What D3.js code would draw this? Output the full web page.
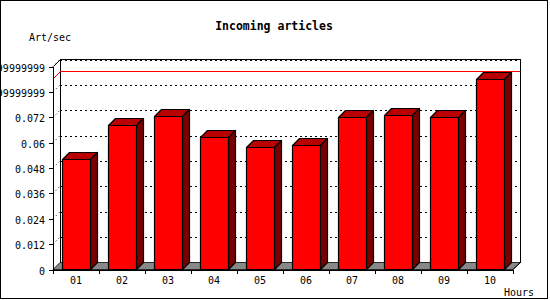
<!DOCTYPE html>
<html><head><meta charset="utf-8">
<script src="https://cdn.jsdelivr.net/npm/d3@7"></script>
<style>
html,body{margin:0;padding:0;background:#fff;}
svg{display:block;}
text{font-family:"DejaVu Sans Mono","Liberation Mono",monospace;fill:#000;}
</style></head><body>
<svg id="c" width="550" height="300"></svg>
<script>
const categories = ["01","02","03","04","05","06","07","08","09","10"];
const values = [0.0523,0.0684,0.0728,0.0627,0.0580,0.0591,0.0723,0.0733,0.0723,0.0902];
const yTickValues = [0,0.012,0.024,0.036,0.048,0.06,0.072,0.084,0.096];
const yTickLabels = ["0","0.012","0.024","0.036","0.048","0.06","0.072","0.08399999999999999","0.09599999999999999"];
const title = "Incoming articles";
const yTitle = "Art/sec";
const xTitle = "Hours";

const svg = d3.select("#c");
const D = 7;
const x = d3.scaleBand().domain(categories).range([53,513]).paddingInner(0.4).paddingOuter(0.2);
const y = d3.scaleLinear().domain([0,0.096]).range([269.5,66.5]);
const L = 53, R = 513, B = y(0), T = y(0.096);

// outer frame
svg.append("rect").attr("x",0.5).attr("y",0.5).attr("width",547).attr("height",298)
  .attr("fill","#fff").attr("stroke","#000");

// back wall
const wall = svg.append("g").attr("shape-rendering","crispEdges");
wall.append("path").attr("d",`M${L+D+0.5},${B-D}V${T-D}H${R+D+0.5}V${B-D}`).attr("fill","none").attr("stroke","#000");
// grid
yTickValues.slice(1).forEach(v=>{
  const yy = Math.round(y(v)-D)+0.5;
  wall.append("line").attr("x1",L+D).attr("x2",R+D).attr("y1",yy).attr("y2",yy)
    .attr("stroke","#000").attr("stroke-dasharray","2,3");
  svg.append("line").attr("x1",L).attr("y1",y(v)).attr("x2",L+D).attr("y2",y(v)-D)
    .attr("stroke","#000").attr("stroke-dasharray","1,3");
});
// max line
const vmax = d3.max(values);
svg.append("path").attr("d",`M${L},${y(vmax)}L${L+D},${y(vmax)-D}H${R+D}`)
  .attr("fill","none").attr("stroke","#ff0000").attr("shape-rendering","crispEdges");
// top-left diagonal
svg.append("line").attr("x1",L+0.5).attr("y1",T).attr("x2",L+D+0.5).attr("y2",T-D).attr("stroke","#000");

// floor
svg.append("path").attr("d",`M${L},${B}L${L+D},${B-D}H${R+D}L${R},${B}Z`)
  .attr("fill","#888").attr("stroke","#000").attr("stroke-width",0.8);

// bars
const bars = svg.append("g").attr("stroke","#000").attr("stroke-width",1.2).attr("stroke-linejoin","round");
categories.forEach((c,i)=>{
  const x0 = Math.round(x(c))+0.5, x1 = Math.round(x(c)+x.bandwidth())+0.5;
  const yt = Math.round(y(values[i]))+0.5, yb = B;
  bars.append("path").attr("d",`M${x0},${yt}L${x0+D},${yt-D}H${x1+D}L${x1},${yt}Z`).attr("fill","#b80000");
  bars.append("path").attr("d",`M${x1},${yt}L${x1+D},${yt-D}V${yb-D}L${x1},${yb}Z`).attr("fill","#780000");
  bars.append("rect").attr("x",x0).attr("y",yt).attr("width",x1-x0).attr("height",yb-yt).attr("fill","#ff0000");
});

// right wall edge
svg.append("path").attr("d",`M${R},${B}L${R+D+0.5},${B-D}V${T-D}`).attr("fill","none").attr("stroke","#000");

// axes
const ax = svg.append("g").attr("shape-rendering","crispEdges").attr("stroke","#000");
ax.append("line").attr("x1",L+0.5).attr("x2",L+0.5).attr("y1",T).attr("y2",B+4);
ax.append("line").attr("x1",L).attr("x2",R+1).attr("y1",Math.round(B)+0.5).attr("y2",Math.round(B)+0.5);
yTickValues.forEach((v,i)=>{
  const yy = Math.round(y(v))+0.5;
  ax.append("line").attr("x1",L-4).attr("x2",L).attr("y1",yy).attr("y2",yy);
  svg.append("text").attr("x",45).attr("y",yy+4).attr("text-anchor","end").attr("font-size",10).text(yTickLabels[i]);
});
const step = x.step();
for(let i=0;i<=categories.length;i++){
  const xx = Math.round(L + i*step)+0.5;
  ax.append("line").attr("x1",xx).attr("x2",xx).attr("y1",B).attr("y2",B+4);
}
categories.forEach(c=>{
  svg.append("text").attr("x",x(c)+x.bandwidth()/2).attr("y",284).attr("text-anchor","middle").attr("font-size",10).text(c);
});

// titles
svg.append("text").attr("x",274).attr("y",30).attr("text-anchor","middle").attr("font-size",11.5).attr("font-weight","bold").text(title);
svg.append("text").attr("x",29).attr("y",41).attr("font-size",10).text(yTitle);
svg.append("text").attr("x",504).attr("y",296).attr("font-size",10).text(xTitle);
</script>
</body></html>
